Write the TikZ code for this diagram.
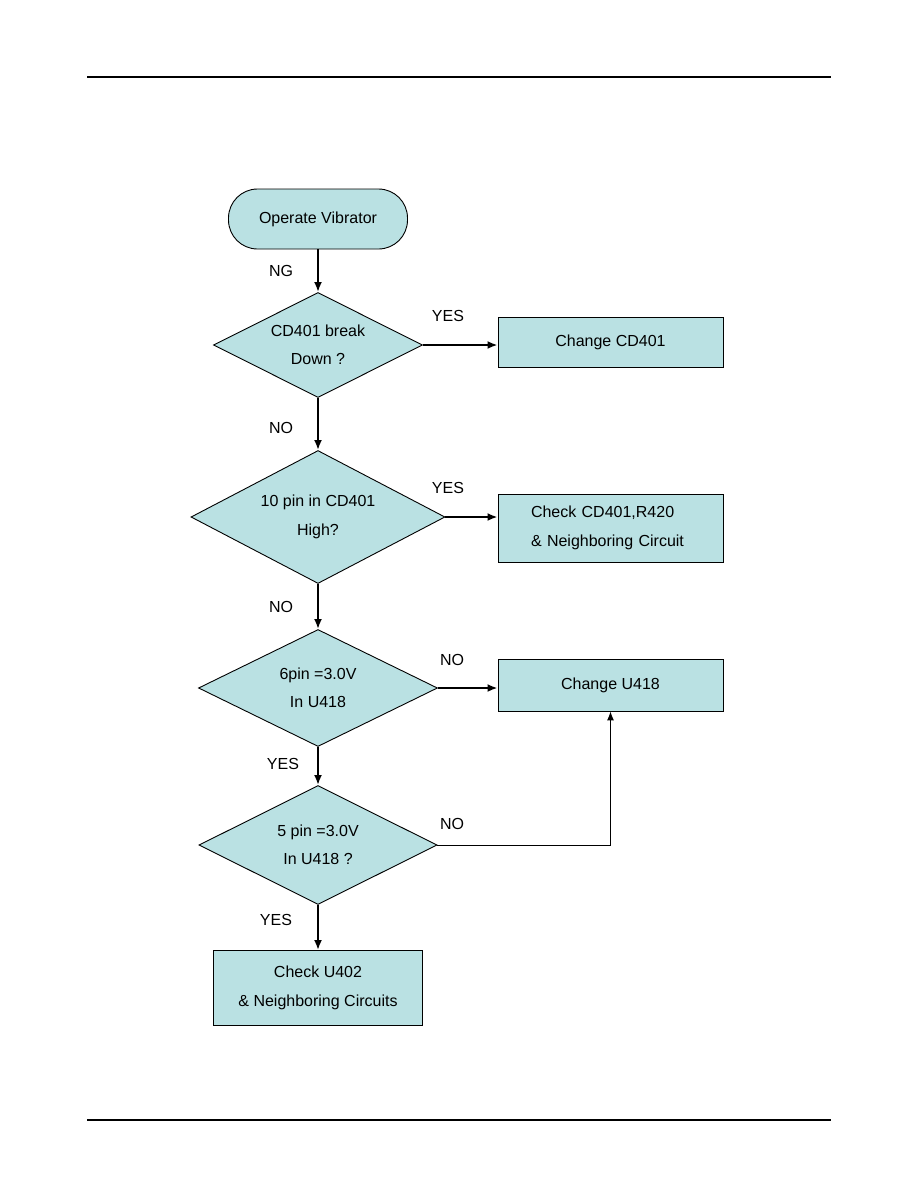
\documentclass[tikz,border=0pt]{standalone}
\usepackage{fontspec}
\setmainfont{Liberation Sans}
\usetikzlibrary{arrows.meta,shapes.geometric,positioning}
\definecolor{flowfill}{RGB}{186,225,227}

\begin{document}
\begin{tikzpicture}[x=1pt,y=-1pt,
  every node/.style={font=\fontsize{16}{28.5}\selectfont},
  base/.style={draw, fill=flowfill, line width=0.9pt, inner sep=0pt, align=center},
  term/.style={base, rectangle, rounded corners=29pt, minimum width=179pt, minimum height=60pt},
  decide/.style={base, diamond, aspect=2},
  proc/.style={base, rectangle, minimum width=225pt},
  flow/.style={-{Latex[length=10pt,width=8pt]}, line width=2pt},
  thinflow/.style={-{Latex[length=9pt,width=7pt]}, line width=1pt},
  lbl/.style={inner sep=0pt}]
\useasboundingbox (0,0) rectangle (918,1188);
% page rules
\draw[line width=1.2pt] (87,77) -- (831,77);
\draw[line width=1.2pt] (87,1120) -- (831,1120);

% main column
\node[term] (start) at (318,219) {Operate Vibrator};
\node[decide, minimum width=209pt, minimum height=105pt] (q1) at (318,345) {CD401 break\\Down ?};
\node[decide, minimum width=254pt, minimum height=133pt] (q2) at (318,517) {10 pin in CD401\\High?};
\node[decide, minimum width=239pt, minimum height=117pt] (q3) at (318,688) {6pin =3.0V\\In U418};
\node[decide, minimum width=238pt, minimum height=119pt] (q4) at (318,845) {5 pin =3.0V\\In U418 ?};
\node[proc, minimum width=209pt, minimum height=75pt] (fix4) at (318,988) {Check U402\\\& Neighboring Circuits};

% actions
\node[proc, minimum height=50pt] (fix1) at (610.5,342) {Change CD401};
\node[proc, minimum height=68pt, text width=159pt, align=left] (fix2) at (610.5,528) {Check CD401,R420\\\& Neighboring Circuit};
\node[proc, minimum height=52pt] (fix3) at (610.5,685) {Change U418};

% connectors
\draw[flow] (start) -- (q1);
\draw[flow] (q1) -- (q2);
\draw[flow] (q2) -- (q3);
\draw[flow] (q3) -- (q4);
\draw[flow] (q4) -- (fix4);
\draw[flow] (q1.east) -- (q1.east -| fix1.west);
\draw[flow] (q2.east) -- (q2.east -| fix2.west);
\draw[flow] (q3.east) -- (q3.east -| fix3.west);
\draw[thinflow] (q4.east) -| (fix3.south);

% answers
\node[lbl] (ng) at (281,271) {NG};
\node[lbl] (no1) at (281,428) {NO};
\node[lbl] (yes1) at (448,316) {YES};
\node[lbl] (yes2) at (448,488) {YES};
\node[lbl] (no2) at (281,607) {NO};
\node[lbl] (no3) at (452,660) {NO};
\node[lbl] (yes3) at (283,764) {YES};
\node[lbl] (no4) at (452,824) {NO};
\node[lbl] (yes4) at (276,920) {YES};
\end{tikzpicture}
\end{document}
